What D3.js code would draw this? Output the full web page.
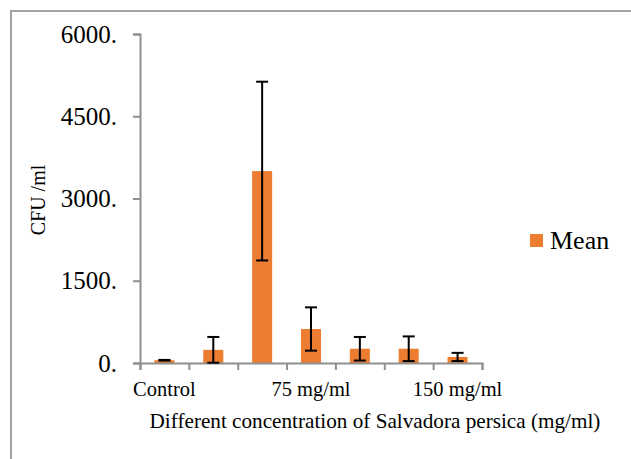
<!DOCTYPE html>
<html>
<head>
<meta charset="utf-8">
<script src="https://cdn.jsdelivr.net/npm/d3@7"></script>
<style>
  body { margin: 0; background: #fff; }
  svg text { font-family: "Liberation Serif", "Times New Roman", serif; fill: #000; }
</style>
</head>
<body>
<div id="chart"></div>
<script>
// chart data
const categories = ["Control", "25 mg/ml", "50 mg/ml", "75 mg/ml", "100 mg/ml", "125 mg/ml", "150 mg/ml"];
const means = [50, 240, 3500, 620, 260, 260, 110];
const errors = [6, 235, 1630, 395, 215, 225, 75];
const yTicks = [0, 1500, 3000, 4500, 6000];
const seriesName = "Mean";

const width = 631, height = 459;
const serif = "Liberation Serif, Times New Roman, serif";
const axisColor = "#8f8f8f";
const barColor = "#ed7d31";

const svg = d3.select("#chart").append("svg")
  .attr("width", width)
  .attr("height", height)
  .attr("font-family", serif);

// outer frame (runs off right and bottom edges)
svg.append("rect")
  .attr("x", 11).attr("y", 11)
  .attr("width", width + 20).attr("height", height + 20)
  .attr("fill", "none")
  .attr("stroke", "#a3a3a3")
  .attr("stroke-width", 2);

const plot = { left: 140, right: 482, top: 34, bottom: 363 };

const x = d3.scaleBand()
  .domain(categories)
  .range([plot.left, plot.right])
  .paddingInner(0.59)
  .paddingOuter(0.295);

// boundaries between categories, for the tick marks
const xEdges = d3.scaleLinear()
  .domain([0, categories.length])
  .range([plot.left, plot.right]);

const y = d3.scaleLinear()
  .domain([0, 6000])
  .range([plot.bottom, plot.top]);

// y axis
const yAxis = svg.append("g")
  .attr("transform", `translate(${plot.left},0)`)
  .call(d3.axisLeft(y).tickValues(yTicks).tickSize(7).tickPadding(16)
    .tickFormat(d => d + "."))
  .attr("font-family", serif)
  .attr("font-size", 25);
yAxis.select(".domain").attr("stroke", axisColor).attr("stroke-width", 2);
yAxis.selectAll(".tick line").attr("stroke", axisColor).attr("stroke-width", 2);

// bars
svg.selectAll("rect.bar")
  .data(means)
  .join("rect")
  .attr("class", "bar")
  .attr("x", (d, i) => x(categories[i]))
  .attr("y", d => y(d))
  .attr("width", x.bandwidth())
  .attr("height", d => y(0) - y(d))
  .attr("fill", barColor);

// x axis (drawn after bars so it sits on top)
const xAxis = svg.append("g")
  .attr("transform", `translate(0,${plot.bottom})`)
  .call(d3.axisBottom(xEdges).tickValues(d3.range(categories.length + 1))
    .tickSize(7).tickFormat(""));
xAxis.select(".domain").attr("stroke", axisColor).attr("stroke-width", 2);
xAxis.selectAll(".tick line").attr("stroke", axisColor).attr("stroke-width", 2);

// Excel only shows every 3rd category label
svg.selectAll("text.xlab")
  .data(categories.filter((d, i) => i % 3 === 0))
  .join("text")
  .attr("class", "xlab")
  .attr("x", d => x(d) + x.bandwidth() / 2)
  .attr("y", 396)
  .attr("text-anchor", "middle")
  .attr("font-size", 20.5)
  .text(d => d);

// error bars
const capW = 12;
const err = svg.append("g").attr("stroke", "#000").attr("stroke-width", 2);
means.forEach((m, i) => {
  const cx = x(categories[i]) + x.bandwidth() / 2;
  const hi = y(m + errors[i]), lo = y(Math.max(0, m - errors[i]));
  err.append("line").attr("x1", cx).attr("x2", cx).attr("y1", hi).attr("y2", lo);
  err.append("line").attr("x1", cx - capW / 2).attr("x2", cx + capW / 2).attr("y1", hi).attr("y2", hi);
  err.append("line").attr("x1", cx - capW / 2).attr("x2", cx + capW / 2).attr("y1", lo).attr("y2", lo);
});

// axis titles
svg.append("text")
  .attr("x", 375)
  .attr("y", 428)
  .attr("text-anchor", "middle")
  .attr("font-size", 21.2)
  .text("Different concentration of Salvadora persica (mg/ml)");

svg.append("text")
  .attr("transform", "translate(45,200) rotate(-90)")
  .attr("text-anchor", "middle")
  .attr("font-size", 20)
  .text("CFU /ml");

// legend
svg.append("rect")
  .attr("x", 530).attr("y", 234)
  .attr("width", 13).attr("height", 13)
  .attr("fill", barColor);
svg.append("text")
  .attr("x", 550)
  .attr("y", 249)
  .attr("font-size", 26)
  .text(seriesName);
</script>
</body>
</html>
